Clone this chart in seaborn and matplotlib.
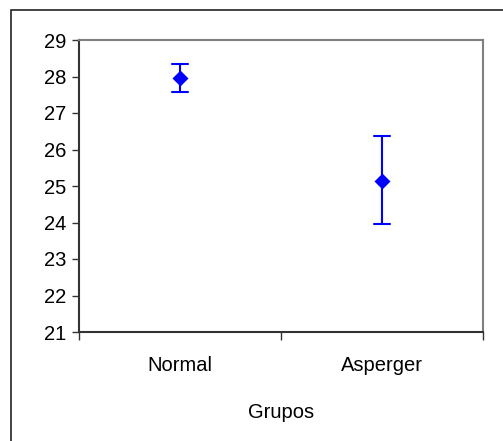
import matplotlib
matplotlib.use("Agg")
import matplotlib.pyplot as plt
from matplotlib.patches import Rectangle
import pandas as pd
import seaborn as sns

# dados: media e limites do intervalo por grupo
grupos = ["Normal", "Asperger"]
media = [27.95, 25.15]
limite_inf = [27.58, 23.96]
limite_sup = [28.35, 26.38]

# formato longo: mediana = media, pi 100 = [inf, sup]
df = pd.DataFrame({
    "Grupos": [g for g in grupos for _ in range(3)],
    "valor": [v for trio in zip(limite_inf, media, limite_sup) for v in trio],
})

sns.set_style("white")
plt.rcParams["font.family"] = ["Liberation Sans", "DejaVu Sans"]
plt.rcParams["text.color"] = "black"
plt.rcParams["xtick.color"] = "black"
plt.rcParams["ytick.color"] = "black"

fig = plt.figure(figsize=(5.03, 4.41), dpi=100)
ax = fig.add_axes([79 / 503, 1 - 332 / 441, 404 / 503, 292 / 441])

sns.pointplot(data=df, x="Grupos", y="valor", order=grupos,
              estimator="median", errorbar=("pi", 100),
              color="#0000ff", markers="D", linestyles="none",
              capsize=0.075, err_kws={"linewidth": 1.5},
              markersize=6.5, ax=ax)

ax.set_xlim(-0.5, 1.5)
ax.set_ylim(21, 29)
ax.set_yticks(range(21, 30))
ax.tick_params(axis="y", which="major", left=True, direction="out",
               length=5, width=1, color="#333333", labelcolor="black",
               labelsize=14.5, pad=4)
ax.tick_params(axis="x", which="major", bottom=False, labelcolor="black",
               labelsize=14.5, pad=14)
ax.set_xticks([-0.5, 0.5, 1.5], minor=True)
ax.tick_params(axis="x", which="minor", bottom=True, direction="out",
               length=6, width=1, color="#333333")
ax.set_ylabel("")
ax.set_xlabel("Grupos", fontsize=14.5, color="black", labelpad=20)

for s in ["left", "bottom"]:
    ax.spines[s].set_color("#333333")
    ax.spines[s].set_linewidth(1.5)
for s in ["top", "right"]:
    ax.spines[s].set_color("#808080")
    ax.spines[s].set_linewidth(1.5)

# moldura externa do grafico
fig.add_artist(Rectangle((11 / 503, -0.05), 1.0, 1.05 - 10 / 441,
                         transform=fig.transFigure, fill=False,
                         edgecolor="#222222", linewidth=1.2))

fig.savefig("out.png", dpi=100)
